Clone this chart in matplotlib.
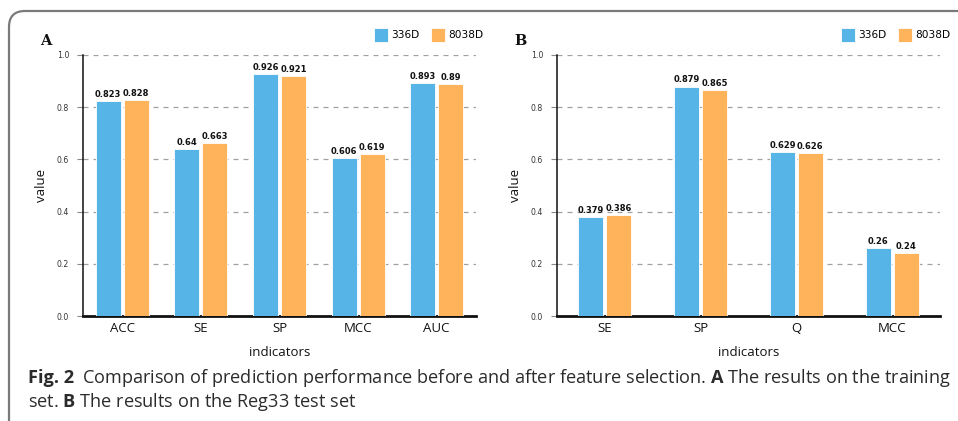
import matplotlib
matplotlib.use("Agg")
import matplotlib.pyplot as plt
from matplotlib.path import Path
from matplotlib.patches import PathPatch
import numpy as np

# ---- data ----
series_names = ["336D", "8038D"]
colors = ["#56b4e7", "#ffb35a"]

train_categories = ["ACC", "SE", "SP", "MCC", "AUC"]
train_336 = [0.823, 0.64, 0.926, 0.606, 0.893]
train_8038 = [0.828, 0.663, 0.921, 0.619, 0.89]

test_categories = ["SE", "SP", "Q", "MCC"]
test_336 = [0.379, 0.879, 0.629, 0.26]
test_8038 = [0.386, 0.865, 0.626, 0.24]

y_ticks = [0.0, 0.2, 0.4, 0.6, 0.8, 1.0]

label_font = "Open Sans"
plt.rcParams["mathtext.fontset"] = "custom"
plt.rcParams["mathtext.bf"] = f"{label_font}:bold"
plt.rcParams["mathtext.rm"] = label_font

W, H = 958, 421
fig = plt.figure(figsize=(W / 100, H / 100), dpi=100)
fig.patch.set_facecolor("white")


def px_box(x0, y0, x1, y1):
    return [x0 / W, 1 - y1 / H, (x1 - x0) / W, (y1 - y0) / H]


def draw_panel(rect, cats, v1, v2, letter, legend_x):
    ax = fig.add_axes(rect)
    n = len(cats)
    x = np.arange(n)
    ax.set_xlim(-0.5, n - 0.5)
    ax.set_ylim(0, 1.0)
    # bar geometry defined in pixels so both panels share the same bar size
    ax_px = rect[2] * W
    unit = ax_px / n
    bw = 25 / unit
    off = 14 / unit
    b1 = ax.bar(x - off, v1, width=bw, color=colors[0], edgecolor="white",
                linewidth=0.6, zorder=3, label=series_names[0])
    b2 = ax.bar(x + off, v2, width=bw, color=colors[1], edgecolor="white",
                linewidth=0.6, zorder=3, label=series_names[1])
    for bars, vals in ((b1, v1), (b2, v2)):
        for b, v in zip(bars, vals):
            ax.annotate(f"{v:g}", (b.get_x() + b.get_width() / 2, v),
                        xytext=(0, 1.5), textcoords="offset points",
                        ha="center", va="bottom", fontsize=6,
                        fontweight="bold", color="#111111",
                        family="DejaVu Sans", zorder=4)
    ax.set_yticks(y_ticks)
    ax.set_yticklabels([f"{t:.1f}" for t in y_ticks], fontsize=5.6,
                       color="#333333", family="DejaVu Sans")
    for t in y_ticks[1:]:
        ax.axhline(t, color="#a0a0a0", lw=0.9, ls=(0, (4, 4)), zorder=1)
    ax.tick_params(axis="y", length=4, width=0.8, color="#888888", pad=6)
    ax.set_xticks(x)
    ax.set_xticklabels(cats, fontsize=9.5, family=label_font, color="#111111")
    ax.tick_params(axis="x", length=0, pad=4)
    ax.set_xlabel("indicators", fontsize=9.5, family=label_font,
                  color="#111111", labelpad=8)
    ax.set_ylabel("value", fontsize=9.5, family=label_font, color="#111111",
                  labelpad=6)
    for s in ("top", "right"):
        ax.spines[s].set_visible(False)
    ax.spines["left"].set_linewidth(1.1)
    ax.spines["bottom"].set_linewidth(2.0)
    ax.spines["left"].set_color("#111111")
    ax.spines["bottom"].set_color("#111111")
    ax.legend(handles=[b1, b2], loc="center left",
              bbox_to_anchor=(legend_x / W, 1 - 35 / H),
              bbox_transform=fig.transFigure, ncol=2, frameon=False,
              handlelength=1.3, handleheight=1.6,
              handletextpad=0.3, columnspacing=1.1, borderpad=0,
              prop={"family": "DejaVu Sans", "size": 7.6})
    fig.text(letter[1] / W, 1 - 41 / H, letter[0], fontsize=10.5,
             fontweight="bold", family="DejaVu Serif", ha="left",
             va="center", color="#111111")
    return ax


draw_panel(px_box(83, 55, 476, 316), train_categories, train_336, train_8038,
           ("A", 40), 369)
draw_panel(px_box(557, 55, 940, 316), test_categories, test_336, test_8038,
           ("B", 514), 836)

# caption
cap_y1 = 1 - 378 / H
cap_y2 = 1 - 402 / H
fs = 13.1
fig.text(28 / W, cap_y1, "Fig. 2", fontsize=fs, fontweight="bold",
         family=label_font, color="#2b2b2b", va="center")
fig.text(82 / W, cap_y1,
         "Comparison of prediction performance before and after feature selection. "
         r"$\mathbf{A}$ The results on the training",
         fontsize=fs, family=label_font, color="#2b2b2b", va="center")
fig.text(28 / W, cap_y2, r"set. $\mathbf{B}$ The results on the Reg33 test set",
         fontsize=fs, family=label_font, color="#2b2b2b", va="center")

# rounded frame around the figure panel (top and left edges)
r = 0.16
x0, ytop = 0.09, (H - 11) / 100
verts = [(x0, -0.2), (x0, ytop - r), (x0, ytop), (x0 + r, ytop), (W / 100 + 0.2, ytop)]
codes = [Path.MOVETO, Path.LINETO, Path.CURVE3, Path.CURVE3, Path.LINETO]
fig.add_artist(PathPatch(Path(verts, codes), transform=fig.dpi_scale_trans,
                         fill=False, edgecolor="#7a7a7a", lw=1.6))

fig.savefig("out.png", dpi=100)
